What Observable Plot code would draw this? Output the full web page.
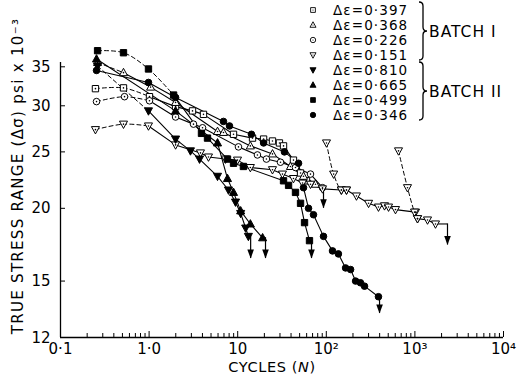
<!DOCTYPE html>
<html><head><meta charset="utf-8">
<script src="https://cdn.jsdelivr.net/npm/d3@7"></script>
<script src="https://cdn.jsdelivr.net/npm/@observablehq/plot@0.6"></script>
<style>
body{margin:0;background:#fff;}
#chart{width:524px;height:375px;}
</style></head><body><div id="chart"></div>
<script>
// ---- data (cycles N, true stress range ksi) ----
const legendLabels = ["Δε=0·397","Δε=0·368","Δε=0·226","Δε=0·151","Δε=0·810","Δε=0·665","Δε=0·499","Δε=0·346"];
const batchLabels = ["BATCH I","BATCH II"];

const cyc397 = [0.248,0.514,1.01,1.99,3.09,4.11,8.97,14.7,19.6,24.7,29.6,32.9,42.6,51.2,59.8];
const str397 = [32.1,32.2,31.1,29.9,29.4,29.0,26.8,26.4,26.3,26.1,25.9,25.6,24.2,23.0,22.3];
const cyc368 = [0.262,0.514,1.04,1.99,5.92,6.91,13.9,24.7,39.4,55.3,75.5];
const str368 = [35.6,34.2,32.3,30.4,27.1,27.0,25.6,24.8,23.6,22.7,22.0];
const cyc226 = [0.255,0.528,1.01,1.99,3.17,4.01,10.2,16.7,21.1,30.4,44.9,66.3,90.6];
const str226 = [30.5,31.1,30.6,28.7,27.9,27.5,25.5,24.7,24.3,24.0,23.5,22.9,21.7];
const cyc151 = [0.248,0.514,0.984,1.99,3.80,4.68,7.28,9.95,13.9,24.7,32.0,42.6,53.9,66.3,90.6,148,169,219,300,388,454,504,604,1016,1070,1388,1708];
const str151 = [27.3,27.9,27.7,25.7,24.9,24.5,24.3,24.2,23.5,23.3,22.9,22.5,22.1,22.0,21.6,21.5,21.5,21.0,20.4,20.1,20.2,20.1,19.9,19.7,19.2,19.1,18.8];
const cyc151r1 = [100.5,121,148,169];
const str151r1 = [25.9,22.9,21.5,21.5];
const cyc151r2 = [653,825,990,1070];
const str151r2 = [25.1,21.7,19.7,19.2];
const cyc810 = [0.262,0.984,1.99,2.93,3.71,5.92,7.87,9.45,10.8,12.3,13.2];
const str810 = [35.1,29.4,26.3,25.1,24.3,22.7,21.5,20.5,19.6,18.5,17.9];
const cyc665 = [0.255,1.99,5.92,7.67,8.97,10.8,13.9,19.1];
const str665 = [36.1,29.4,25.9,22.5,21.3,19.8,18.8,17.8];
const cyc499 = [0.262,0.514,0.984,1.89,3.90,4.56,7.67,8.97,11.6,32.9,37.5,44.9,51.2,56.8,64.6];
const str499 = [37.3,37.0,34.7,31.3,26.9,26.4,24.3,23.9,23.6,22.3,21.9,21.3,20.4,18.9,17.6];
const cyc346 = [0.255,0.984,1.99,6.91,8.08,14.3,19.6,33.7,48.6,55.3,63.0,71.7,93.0,117.5,137,165,188,214,243,270,388];
const str346 = [34.5,32.9,31.0,28.2,27.7,26.8,25.9,25.0,23.9,21.7,20.0,19.5,17.9,16.9,16.7,15.8,15.7,15.0,14.9,14.7,14.1];

// index of last point of the dashed (transient) part of each series
const dashEnd = [2,1,2,2,1,0,3,0];
// failure arrows: series index, arrow cycles, arrow tip stress
const arrowSeries = [2,3,4,5,6,7];
const arrowCycles = [93,2333,14.0,20.6,68.1,399];
const arrowTips = [20.0,17.3,16.4,16.4,16.4,13.2];

const xTicks = [0.1,1,10,100,1000,10000];
const xTickLabels = ["0·1","1·0","10","10²","10³","10⁴"];
const yTicks = [12,15,20,25,30,35];

// ---- symbols ----
function tri(dir){return {draw(ctx,size){const r=Math.sqrt(size/Math.PI),h=r*1.2,w=r*1.12;
  if(dir>0){ctx.moveTo(0,-h);ctx.lineTo(w,h*0.7);ctx.lineTo(-w,h*0.7);}else{ctx.moveTo(0,h);ctx.lineTo(w,-h*0.7);ctx.lineTo(-w,-h*0.7);}ctx.closePath();}};}
const symSquare={draw(ctx,size){const r=Math.sqrt(size/Math.PI)*0.88;ctx.rect(-r,-r,2*r,2*r);}};
const symCircle={draw(ctx,size){const r=Math.sqrt(size/Math.PI);ctx.moveTo(r,0);ctx.arc(0,0,r,0,2*Math.PI);}};
const symUp=tri(1), symDown=tri(-1);
const arrowHead={draw(ctx){ctx.moveTo(0,0);ctx.lineTo(-3.3,-9);ctx.lineTo(3.3,-9);ctx.closePath();}};

const cycs=[cyc397,cyc368,cyc226,cyc151,cyc810,cyc665,cyc499,cyc346];
const strs=[str397,str368,str226,str151,str810,str665,str499,str346];
const syms=[symSquare,symUp,symCircle,symDown,symDown,symUp,symSquare,symCircle];
const filled=[false,false,false,false,true,true,true,true];

const pts=cycs.flatMap((c,i)=>c.map((x,j)=>({s:i,x,y:strs[i][j]})));
pts.push(...cyc151r1.map((x,j)=>({s:3,x,y:str151r1[j]})), ...cyc151r2.map((x,j)=>({s:3,x,y:str151r2[j]})));
const dashed=cycs.flatMap((c,i)=>dashEnd[i]>0?c.slice(0,dashEnd[i]+1).map((x,j)=>({z:"d"+i,x,y:strs[i][j]})):[]);
dashed.push(...cyc151r1.map((x,j)=>({z:"r1",x,y:str151r1[j]})), ...cyc151r2.map((x,j)=>({z:"r2",x,y:str151r2[j]})));
const solid=cycs.flatMap((c,i)=>c.slice(dashEnd[i]).map((x,j)=>({z:"s"+i,x,y:strs[i][j+dashEnd[i]]})));
const arrows=arrowSeries.map((s,k)=>({x0:cycs[s][cycs[s].length-1],y0:strs[s][strs[s].length-1],x:arrowCycles[k],tip:arrowTips[k]}));

const minorTicks=d3.range(-1,4).flatMap(e=>d3.range(2,10).map(m=>m*10**e));
const frameW=524-60-21, frameH=375-62-38;

const markFor=(i,r)=>Plot.dot(pts.filter(d=>d.s===i),{x:"x",y:"y",symbol:syms[i],r,fill:filled[i]?"black":"white",stroke:"black",strokeWidth:1});

const plot=Plot.plot({
  width:524,height:375,marginLeft:60,marginRight:21,marginTop:62,marginBottom:38,
  style:{fontFamily:"DejaVu Sans, sans-serif",fontSize:"15px",background:"white",color:"black",overflow:"visible"},
  x:{type:"log",domain:[0.1,1e4],ticks:xTicks,tickFormat:d=>xTickLabels[xTicks.indexOf(d)],tickSize:0,tickPadding:6,label:null},
  y:{type:"log",domain:[12,35.6],ticks:yTicks,tickFormat:d=>String(d),tickSize:0,tickPadding:10,label:null},
  marks:[
    Plot.ruleX([0.1],{stroke:"black",strokeWidth:1.3}),
    Plot.ruleY([12],{stroke:"black",strokeWidth:1.3}),
    Plot.ruleX(minorTicks,{x:d=>d,insetTop:frameH-4,stroke:"black"}),
    Plot.ruleX(xTicks,{x:d=>d,insetTop:frameH-6,stroke:"black"}),
    Plot.ruleY(yTicks,{y:d=>d,insetRight:frameW-5,stroke:"black"}),
    Plot.line(dashed,{x:"x",y:"y",z:"z",stroke:"black",strokeWidth:1,strokeDasharray:"4,3",curve:"catmull-rom"}),
    Plot.line(solid,{x:"x",y:"y",z:"z",stroke:"black",strokeWidth:1.1}),
    Plot.link(arrows,{x1:"x0",y1:"y0",x2:"x",y2:"y0",stroke:"black",strokeWidth:1.1}),
    Plot.ruleX(arrows,{x:"x",y1:"y0",y2:"tip",stroke:"black",strokeWidth:1.2}),
    Plot.dot(arrows,{x:"x",y:"tip",symbol:arrowHead,fill:"black",stroke:"none"}),
    ...d3.range(8).map(i=>markFor(i,i===2||i===7?3.3:3.6)),
    Plot.dot(pts.filter(d=>!filled[d.s]),{x:"x",y:"y",r:0.8,fill:"black"})
  ]
});
document.getElementById("chart").appendChild(plot);

// ---- labels and legend ----
const svg=d3.select(plot);
svg.selectAll('g[aria-label$="tick label"] text, g[aria-label$="axis"] text').style("font-size","15px");
svg.selectAll('g[aria-label^="y-axis"] text').filter(function(){return this.textContent==="12";}).attr("dy","0.05em");
svg.append("text").attr("x",272).attr("y",372).attr("text-anchor","middle")
  .style("font-size","14.5px").attr("letter-spacing",0.6)
  .html('CYCLES (<tspan font-style="italic">N</tspan>)');
svg.append("text").attr("transform","translate(23,176) rotate(-90)").attr("text-anchor","middle")
  .style("font-size","15px").attr("letter-spacing",1.3)
  .text("TRUE STRESS RANGE (Δσ) psi x 10⁻³");

const lg=svg.append("g").attr("text-anchor","start");
const row0=10, rowGap=15;
legendLabels.forEach((t,i)=>{
  const y=row0+i*rowGap;
  lg.append("path").attr("transform",`translate(313,${y})`)
    .attr("d",d3.symbol(syms[i],Math.PI*2.7*2.7)())
    .attr("fill",filled[i]?"black":"white").attr("stroke","black").attr("stroke-width",0.9);
  if(!filled[i]) lg.append("circle").attr("cx",313).attr("cy",y).attr("r",0.6).attr("fill","black");
  lg.append("text").attr("x",333).attr("y",y+5).attr("text-anchor","start").style("font-size","13.5px").attr("letter-spacing",1.1).text(t);
});
function brace(x,y0,y1){const m=(y0+y1)/2;
  return `M${x},${y0} Q${x+4},${y0} ${x+4},${y0+4} L${x+4},${m-4} Q${x+4},${m} ${x+8},${m} Q${x+4},${m} ${x+4},${m+4} L${x+4},${y1-4} Q${x+4},${y1} ${x},${y1}`;}
[[2,60],[62,120]].forEach(([a,b],k)=>{
  lg.append("path").attr("d",brace(419,a,b)).attr("fill","none").attr("stroke","black").attr("stroke-width",1.3);
  lg.append("text").attr("x",429).attr("y",(a+b)/2+6).attr("text-anchor","start").style("font-size","15.5px").attr("letter-spacing",1).text(batchLabels[k]);
});
</script></body></html>
